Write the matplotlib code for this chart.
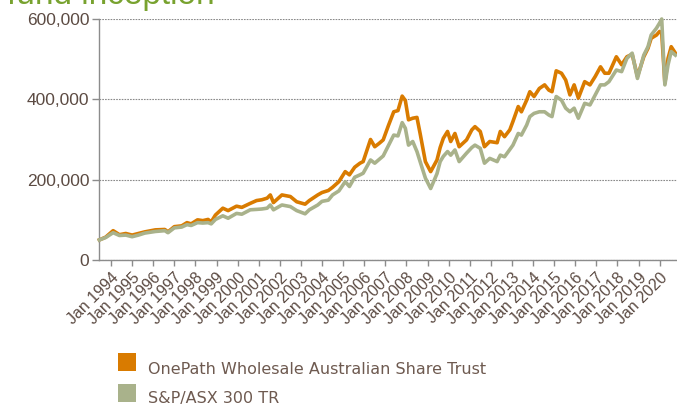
import matplotlib
matplotlib.use("Agg")
import matplotlib.pyplot as plt
from matplotlib.patches import Rectangle
import numpy as np

# ---- data (decimal years, values in $) ----
years = [1993.45, 1993.75, 1994.1, 1994.4, 1994.7, 1995.0, 1995.3, 1995.6, 1996.1, 1996.55,
         1996.7, 1997.0, 1997.35, 1997.6, 1997.8, 1998.1, 1998.35, 1998.6, 1998.75, 1998.95,
         1999.3, 1999.55, 1999.95, 2000.2, 2000.6, 2000.9, 2001.15, 2001.4, 2001.55, 2001.7,
         2002.1, 2002.5, 2002.8, 2003.2, 2003.4, 2003.8, 2004.0, 2004.3, 2004.5, 2004.8,
         2005.1, 2005.3, 2005.55, 2005.8, 2005.95, 2006.3, 2006.5, 2006.7, 2006.9, 2007.15,
         2007.4, 2007.6, 2007.8, 2007.95, 2008.1, 2008.3, 2008.5, 2008.65, 2008.9, 2009.15,
         2009.45, 2009.6, 2009.75, 2009.95, 2010.1, 2010.3, 2010.5, 2010.85, 2011.1, 2011.25,
         2011.5, 2011.7, 2011.95, 2012.3, 2012.45, 2012.65, 2012.9, 2013.05, 2013.3, 2013.45,
         2013.7, 2013.85, 2014.05, 2014.3, 2014.55, 2014.75, 2014.9, 2015.1, 2015.35, 2015.55,
         2015.75, 2015.95, 2016.15, 2016.45, 2016.7, 2016.95, 2017.2, 2017.4, 2017.6, 2017.95,
         2018.2, 2018.45, 2018.7, 2018.95, 2019.25, 2019.45, 2019.6, 2019.85, 2020.0, 2020.1,
         2020.25, 2020.4, 2020.55, 2020.75]

onepath = [50, 57, 73, 63, 66, 62, 66, 70, 75, 76,
           70, 83, 85, 93, 90, 100, 98, 101, 95, 112,
           129, 123, 134, 131, 141, 148, 150, 154, 162, 143,
           162, 158, 145, 139, 148, 162, 168, 173, 181, 195,
           220, 212, 231, 241, 245, 300, 282, 290, 299, 335,
           369, 372, 408, 397, 349, 353, 355, 315, 245, 220,
           249, 280, 303, 320, 295, 315, 282, 299, 324, 332,
           320, 282, 295, 292, 320, 307, 324, 345, 382, 369,
           398, 419, 407, 427, 436, 423, 419, 471, 465, 448,
           411, 436, 403, 444, 436, 457, 481, 465, 465, 506,
           486, 506, 512, 457, 506, 527, 552, 560, 569, 565,
           440, 502, 531, 515]

asx300 = [50, 56, 68, 61, 62, 58, 62, 67, 71, 73,
          68, 80, 82, 88, 86, 93, 92, 93, 90, 101,
          110, 104, 116, 114, 125, 126, 127, 129, 137, 125,
          137, 133, 123, 115, 125, 137, 146, 149, 162, 172,
          195, 183, 206, 212, 216, 249, 241, 250, 259, 285,
          311, 309, 342, 328, 286, 295, 270, 245, 204, 178,
          215, 245, 258, 270, 261, 274, 245, 266, 280, 286,
          278, 241, 253, 245, 261, 257, 275, 286, 315, 311,
          336, 357, 365, 369, 369, 361, 357, 407, 398, 378,
          369, 378, 353, 390, 386, 411, 436, 436, 444, 473,
          469, 502, 515, 452, 510, 531, 560, 577, 590, 600,
          436, 486, 519, 510]

yticks = [0, 200000, 400000, 600000]
xtick_years = list(range(1994, 2021))
xtick_labels = [f"Jan {y}" for y in xtick_years]

onepath_v = np.array(onepath) * 1000
asx300_v = np.array(asx300) * 1000

ORANGE = "#d97b00"
GREEN = "#a9b28b"
TXT = "#5c4b43"
LEG_TXT = "#6e5a50"
AX = "#8c8c8c"

W, H = 677, 405
fig = plt.figure(figsize=(W / 100, H / 100), dpi=100)
ax = fig.add_axes([99 / W, 1 - 260 / H, 1 - 99 / W, (260 - 19) / H])

ax.plot(years, asx300_v, color=GREEN, lw=2.6, solid_joinstyle="round", clip_on=False, zorder=3)
ax.plot(years, onepath_v, color=ORANGE, lw=2.6, solid_joinstyle="round", clip_on=False, zorder=2)
ax.set_xlim(1994 - 12 / 21.1, 1994 + (W - 111) / 21.1)
ax.set_ylim(0, 600000)

ax.set_yticks(yticks)
ax.set_yticklabels([f"{v:,}" for v in yticks])
ax.set_xticks(xtick_years)
ax.set_xticklabels(xtick_labels, rotation=45, ha="right", va="top", rotation_mode="anchor")

for s in ["top", "right"]:
    ax.spines[s].set_visible(False)
for s in ["left", "bottom"]:
    ax.spines[s].set_color(AX)
    ax.spines[s].set_linewidth(1.0)

ax.tick_params(axis="y", colors=AX, length=5, width=1, labelcolor=TXT, labelsize=12.5, pad=2)
ax.tick_params(axis="x", colors=AX, length=4, width=1, labelcolor=TXT, labelsize=11.5, pad=3)
for lab in ax.get_xticklabels() + ax.get_yticklabels():
    lab.set_fontfamily("Liberation Sans")

ax.yaxis.grid(True, linestyle=(0, (1.5, 1.0)), color="#8a8a8a", linewidth=0.8)
ax.set_axisbelow(True)

# partially visible title (cut off at the top edge, as in the reference)
fig.text(7 / W, 1 - 4 / H, "fund inception", fontsize=24, color="#78a22f",
         family="Liberation Sans", ha="left", va="baseline")

# legend
fig.patches.append(Rectangle((118 / W, 1 - 371 / H), 18 / W, 18 / H, transform=fig.transFigure,
                             facecolor=ORANGE, edgecolor="none"))
fig.patches.append(Rectangle((118 / W, 1 - 402 / H), 18 / W, 18 / H, transform=fig.transFigure,
                             facecolor=GREEN, edgecolor="none"))
fig.text(148 / W, 1 - 374 / H, "OnePath Wholesale Australian Share Trust", fontsize=11.5,
         color=LEG_TXT, family="DejaVu Sans", ha="left", va="baseline")
fig.text(148 / W, 1 - 403 / H, "S&P/ASX 300 TR", fontsize=11.5,
         color=LEG_TXT, family="DejaVu Sans", ha="left", va="baseline")

fig.savefig("out.png", dpi=100)
